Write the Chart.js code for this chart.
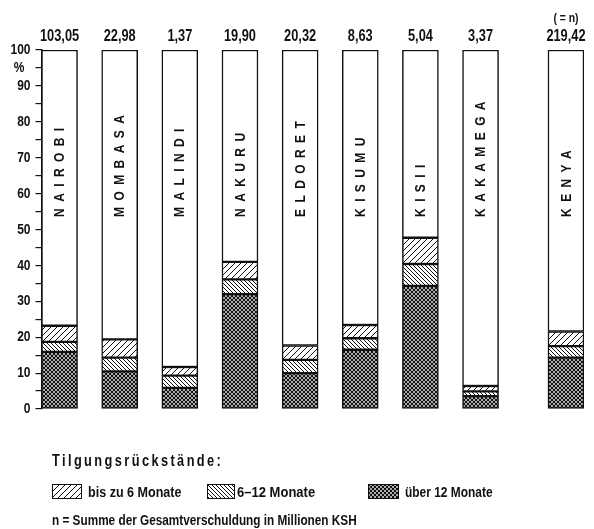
<!DOCTYPE html>
<html>
<head>
<meta charset="utf-8">
<script src="https://cdn.jsdelivr.net/npm/chart.js@4"></script>
<style>
  html, body { margin: 0; padding: 0; background: #fff; }
  #wrap { position: relative; width: 594px; height: 529px; overflow: hidden; }
  #c { position: absolute; left: 0; top: 0; }
  .lg { position: absolute; font-family: 'Liberation Sans', Arial, sans-serif; font-weight: bold; color: #111; white-space: nowrap; line-height: 1; transform-origin: 0 50%; }
  .sw { position: absolute; border: 1px solid #111; }
</style>
</head>
<body>
<div id="wrap">
  <canvas id="c" width="594" height="529"></canvas>
  <div class="lg" style="left:52px; top:453px; font-size:16px; letter-spacing:3px; transform:scaleX(0.8);">Tilgungsrückstände:</div>
  <canvas class="sw" id="sw1" width="28" height="13" style="left:52px; top:484px;"></canvas>
  <div class="lg" style="left:88px; top:484px; font-size:15.5px; transform:scaleX(0.81);">bis zu 6 Monate</div>
  <canvas class="sw" id="sw2" width="26" height="13" style="left:207px; top:484px;"></canvas>
  <div class="lg" style="left:237px; top:484px; font-size:15.5px; transform:scaleX(0.84);">6–12 Monate</div>
  <canvas class="sw" id="sw3" width="29" height="13" style="left:368px; top:484px;"></canvas>
  <div class="lg" style="left:405px; top:484px; font-size:15.5px; transform:scaleX(0.77);">über 12 Monate</div>
  <div class="lg" style="left:52px; top:512px; font-size:15.5px; transform:scaleX(0.76);">n = Summe der Gesamtverschuldung in Millionen KSH</div>
</div>
<script>
// ---- data ----
const cities = ['NAIROBI','MOMBASA','MALINDI','NAKURU','ELDORET','KISUMU','KISII','KAKAMEGA','KENYA'];
const nTotals = ['103,05','22,98','1,37','19,90','20,32','8,63','5,04','3,37','219,42'];
const over12 = [15.9, 10.5, 5.9, 32.0, 10.0, 16.5, 34.3, 3.6, 14.3];
const m6to12 = [2.8, 3.8, 3.4, 4.1, 3.7, 3.2, 6.1, 1.3, 3.2];
const upto6  = [4.5, 5.1, 2.4, 4.9, 4.0, 3.7, 7.3, 1.5, 4.1];
const yTicks = [0,10,20,30,40,50,60,70,80,90,100];

// ---- layout (slot positions along the x axis; Kenya set apart) ----
const slot = [0,1,2,3,4,5,6,7,8.42];
const rest = over12.map((v,i) => 100 - v - m6to12[i] - upto6[i]);

const FONT = "'Liberation Sans', Arial, sans-serif";
const SQ = 0.8; // horizontal squeeze to imitate a condensed face

function makePattern(kind) {
  const c = document.createElement('canvas');
  const ctx = c.getContext('2d');
  if (kind === 'fwd') {
    const s = 6; c.width = s; c.height = s;
    ctx.fillStyle = '#fff'; ctx.fillRect(0,0,s,s);
    ctx.strokeStyle = '#111'; ctx.lineWidth = 1;
    ctx.beginPath();
    for (let k = -1; k <= 1; k++) { ctx.moveTo(k*s, s); ctx.lineTo(k*s + s, 0); }
    ctx.stroke();
  } else if (kind === 'back') {
    const s = 4; c.width = s; c.height = s;
    ctx.fillStyle = '#fff'; ctx.fillRect(0,0,s,s);
    ctx.strokeStyle = '#111'; ctx.lineWidth = 1;
    ctx.beginPath();
    for (let k = -1; k <= 1; k++) { ctx.moveTo(k*s, 0); ctx.lineTo(k*s + s, s); }
    ctx.stroke();
  } else {
    const s = 4; c.width = s; c.height = s;
    ctx.fillStyle = '#fff'; ctx.fillRect(0,0,s,s);
    ctx.fillStyle = '#111';
    for (let k = 0; k < s; k++) { ctx.fillRect(k, k, 1, 1); ctx.fillRect(s-1-k, k, 1, 1); }
    ctx.globalAlpha = 0.35;
    ctx.fillRect(1, 0, 2, 1); ctx.fillRect(0, 1, 1, 2); ctx.fillRect(3, 1, 1, 2); ctx.fillRect(1, 3, 2, 1);
  }
  return c;
}
function pat(kind, ctx) { return ctx.createPattern(makePattern(kind), 'repeat'); }

const cv = document.getElementById('c');
const cx = cv.getContext('2d');

[['sw1','fwd'],['sw2','back'],['sw3','cross']].forEach(([id,k]) => {
  const el = document.getElementById(id); const g = el.getContext('2d');
  g.fillStyle = pat(k, g); g.fillRect(0,0,el.width,el.height);
});

const pts = arr => arr.map((v,i) => ({x: slot[i], y: v}));
const common = { borderColor: '#111', borderWidth: 1.5, barThickness: 36, borderSkipped: false };

function squeezedText(ctx, text, x, y, align) {
  ctx.save();
  ctx.translate(x, y);
  ctx.scale(SQ, 1);
  ctx.textAlign = align;
  ctx.fillText(text, 0, 0);
  ctx.restore();
}

const labelPlugin = {
  id: 'labels',
  afterDraw(chart) {
    const ctx = chart.ctx, xs = chart.scales.x, ys = chart.scales.y;
    ctx.save();
    ctx.fillStyle = '#111';
    ctx.textBaseline = 'middle';
    // y tick labels
    ctx.font = 'bold 15px ' + FONT;
    const lx = ys.right - 6 - 5;
    yTicks.forEach(v => squeezedText(ctx, String(v), lx, ys.getPixelForValue(v), 'right'));
    squeezedText(ctx, '%', lx - 6, ys.getPixelForValue(95), 'right');
    // totals on top
    ctx.font = 'bold 16px ' + FONT;
    nTotals.forEach((t,i) => squeezedText(ctx, t, xs.getPixelForValue(slot[i]), chart.chartArea.top - 13, 'center'));
    ctx.font = 'bold 13px ' + FONT;
    squeezedText(ctx, '( = n)', xs.getPixelForValue(slot[8]), chart.chartArea.top - 32, 'center');
    // city names inside bars, rotated
    ctx.font = 'bold 15px ' + FONT;
    ctx.letterSpacing = '8px';
    const yStart = ys.getPixelForValue(53.5);
    cities.forEach((name,i) => {
      ctx.save();
      ctx.translate(xs.getPixelForValue(slot[i]) + 0.5, yStart);
      ctx.rotate(-Math.PI/2);
      ctx.scale(SQ, 1);
      ctx.textAlign = 'left';
      ctx.fillText(name, 0, 0);
      ctx.restore();
    });
    ctx.restore();
  }
};

new Chart(cv, {
  type: 'bar',
  data: {
    datasets: [
      { label: 'über 12 Monate', data: pts(over12), backgroundColor: pat('cross', cx), ...common },
      { label: '6-12 Monate', data: pts(m6to12), backgroundColor: pat('back', cx), ...common },
      { label: 'bis zu 6 Monate', data: pts(upto6), backgroundColor: pat('fwd', cx), ...common },
      { label: 'Rest', data: pts(rest), backgroundColor: '#fff', ...common }
    ]
  },
  options: {
    responsive: false,
    animation: false,
    layout: { padding: { top: 50, right: 10, bottom: 120, left: 0 } },
    plugins: { legend: { display: false }, tooltip: { enabled: false } },
    scales: {
      x: { type: 'linear', min: -0.3, max: 8.72, offset: false, stacked: true, display: false },
      y: {
        stacked: true, min: 0, max: 100,
        afterFit(s) { s.width = 41.5; },
        afterBuildTicks(s) {
          const t = [];
          for (let v = 0; v <= 100; v += 5) t.push({ value: v });
          s.ticks = t;
        },
        ticks: { display: false, autoSkip: false },
        grid: { drawOnChartArea: false, color: '#111', tickLength: 6, lineWidth: 1.2 },
        border: { color: '#111', width: 1.5 }
      }
    }
  },
  plugins: [labelPlugin]
});
</script>
</body>
</html>
